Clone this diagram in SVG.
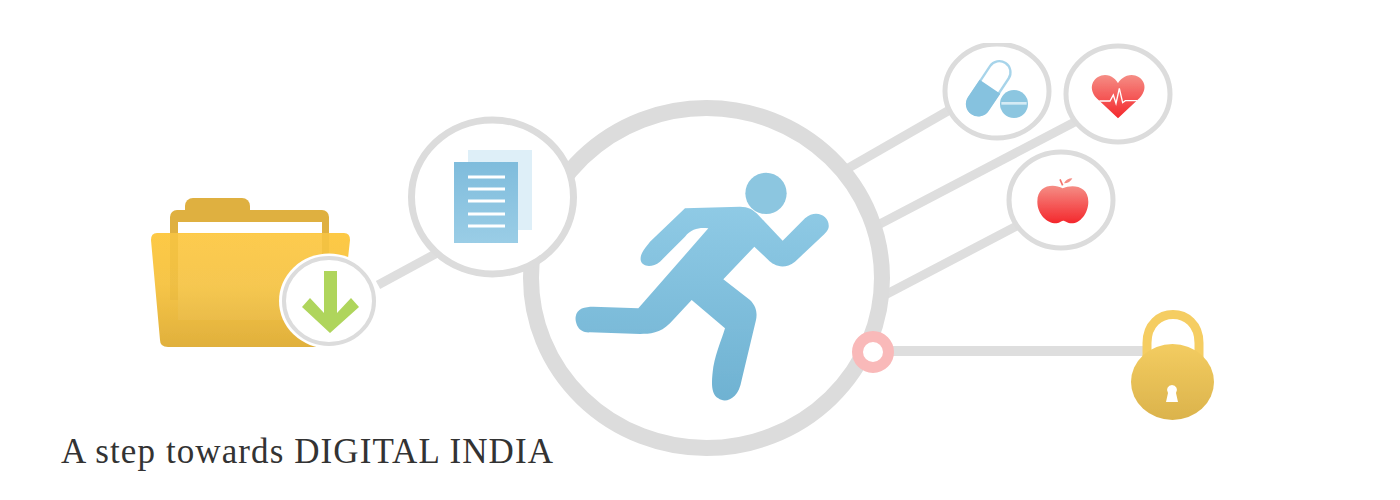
<svg xmlns="http://www.w3.org/2000/svg" width="1400" height="500" viewBox="0 0 1400 500">
<style>
.ring{fill:#fff;stroke:#dcdcdc}
.conn{stroke:#dedede;fill:none}
.label{font-family:"Liberation Serif","Times New Roman",serif;font-size:35px;fill:#333}
</style>
<defs>
<filter id="soft" x="-5%" y="-5%" width="110%" height="110%"><feGaussianBlur stdDeviation="0.6"/></filter>
<linearGradient id="blue" x1="0" y1="0" x2="0" y2="1"><stop offset="0" stop-color="#8fcae5"/><stop offset="1" stop-color="#6fb2d2"/></linearGradient>
<linearGradient id="docblue" x1="0" y1="0" x2="0" y2="1"><stop offset="0" stop-color="#7fbcdc"/><stop offset="1" stop-color="#9acde6"/></linearGradient>
<linearGradient id="red" x1="0" y1="0" x2="0" y2="1"><stop offset="0" stop-color="#f58d85"/><stop offset="1" stop-color="#f4272c"/></linearGradient>
<linearGradient id="gold" x1="0" y1="0" x2="0" y2="1"><stop offset="0" stop-color="#f3cc60"/><stop offset="1" stop-color="#dbb34c"/></linearGradient>
<linearGradient id="folder" x1="0" y1="0" x2="0" y2="1"><stop offset="0" stop-color="#fdc945"/><stop offset="0.45" stop-color="#f6c548"/><stop offset="1" stop-color="#e0b03c"/></linearGradient>
</defs>
<g filter="url(#soft)">
<g id="connectors">
<line class="conn" stroke-width="9" x1="378" y1="285" x2="450" y2="246"/>
<line class="conn" stroke-width="9" x1="845" y1="170" x2="960" y2="104"/>
<line class="conn" stroke-width="9" x1="878" y1="225" x2="1090" y2="114"/>
<line class="conn" stroke-width="9" x1="885" y1="295" x2="1030" y2="219"/>
<line class="conn" stroke-width="10" x1="880" y1="351" x2="1150" y2="351"/>
</g>
<g id="main-node">
<ellipse class="ring" cx="706.500" cy="278" rx="175.500" ry="170" stroke-width="16"/>
<g transform="translate(560 150) scale(0.33333)">
<circle cx="618" cy="130" r="62" fill="#8cc6e0"/>
<path fill="url(#blue)" d="M375,175 L540,170 C565,170 580,180 590,190 L668,272 L735,205 C770,175 810,200 806,232 C804,245 790,255 780,265 L705,335 C670,362 640,345 625,330 L583,290 L490,388 L570,450 C590,470 592,490 588,510 L545,690 C535,750 495,760 475,745 C450,730 455,690 460,650 C470,600 485,570 495,535 L395,450 L330,520 C300,550 270,552 240,552 L90,547 C50,550 45,510 47,500 C50,475 75,470 100,470 L235,475 L445,235 C420,232 395,235 375,260 L300,335 C275,355 245,350 242,330 C240,310 255,295 270,275 Z"/>
</g>
</g>
<g id="document-node">
<ellipse class="ring" cx="492.500" cy="197" rx="81" ry="77" stroke-width="7"/>
<rect x="468" y="150" width="64" height="80" fill="#deeff8"/>
<rect x="454" y="162" width="64" height="81" fill="url(#docblue)"/>
<g stroke="#fff" stroke-width="3">
<line x1="468" y1="177" x2="505" y2="177"/>
<line x1="468" y1="189" x2="505" y2="189"/>
<line x1="468" y1="201" x2="505" y2="201"/>
<line x1="468" y1="214" x2="505" y2="214"/>
<line x1="468" y1="226" x2="505" y2="226"/>
</g>
</g>
<g id="folder-node">
<rect x="185" y="198" width="65" height="24" rx="8" fill="#dfb040"/>
<rect x="170" y="210" width="159" height="60" rx="7" fill="#dfb040"/>
<rect x="178" y="222" width="144" height="14" fill="#fff"/>
<path d="M157,233 H344 Q350,233 350,240 L339,340 Q338,347 330,347 H168 Q160,347 160,340 L151,240 Q151,233 157,233 Z" fill="url(#folder)"/>
<path d="M170,233 H178 V300 H170 Z M322,233 H329 V270 H322 Z" fill="#d9a938" opacity="0.2"/>
<rect x="178" y="234" width="144" height="86" fill="#fff" opacity="0.05"/>
</g>
<g id="download-node">
<ellipse cx="329" cy="301" rx="50" ry="47.500" fill="#fff"/>
<ellipse class="ring" cx="329" cy="301" rx="45" ry="43" stroke-width="4"/>
<polygon points="324,271 337,271 337,313 351,298 359,307 330,333 302,307 310,298 324,313" fill="#afd55c"/>
</g>
<g id="pill-node">
<ellipse class="ring" cx="997" cy="91" rx="52" ry="47" stroke-width="5"/>
<g transform="translate(840 30) scale(0.33333)">
<line x1="478" y1="127" x2="415" y2="222" stroke="#a7d4ea" stroke-width="74" stroke-linecap="round"/>
<line x1="478" y1="127" x2="415" y2="222" stroke="#fff" stroke-width="60" stroke-linecap="round"/>
<path d="M419,149 L481,191 L446,243 A37,37 0 0 1 384,201 Z" fill="#86c2df"/>
<circle cx="522" cy="222" r="46" fill="#fff"/>
<circle cx="522" cy="222" r="42" fill="#8cc6e0"/>
<line x1="484" y1="220" x2="560" y2="220" stroke="#d5ebf5" stroke-width="8"/>
</g>
</g>
<g id="heart-node">
<ellipse class="ring" cx="1118" cy="94" rx="52" ry="48" stroke-width="5"/>
<g transform="translate(840 30) scale(0.33333)">
<path d="M834,265 L770,205 C738,170 765,135 795,135 C815,135 830,150 834,160 C838,150 855,135 875,135 C905,135 932,170 898,205 Z" fill="url(#red)"/>
<path d="M778,213 H810 L820,195 L828,220 L838,175 L848,218 L856,212 H892" fill="none" stroke="#fff" stroke-width="4"/>
</g>
</g>
<g id="apple-node">
<ellipse class="ring" cx="1061" cy="200" rx="52" ry="48" stroke-width="5"/>
<g transform="translate(840 30) scale(0.33333)">
<path d="M668,475 C640,460 592,465 592,515 C592,555 625,582 650,580 C660,578 665,572 670,572 C675,572 682,580 695,580 C720,580 745,550 745,515 C745,465 695,462 668,475 Z" fill="url(#red)"/>
<path d="M660,448 L668,466" stroke="#f4736c" stroke-width="5" fill="none"/>
<path d="M672,460 Q680,445 697,445 Q690,460 672,460 Z" fill="#f58d85"/>
</g>
</g>
<g id="pink-node">
<circle cx="873" cy="352" r="15.500" fill="#fff" stroke="#f9b9b9" stroke-width="11"/>
</g>
<g id="lock-node">
<path d="M1147,365 V343 C1147,305 1199,305 1199,343 V365" fill="none" stroke="#f5cd62" stroke-width="9"/>
<ellipse cx="1172.500" cy="382" rx="41.500" ry="38" fill="url(#gold)"/>
<path d="M1172,385 a5,5 0 0 1 4,8 l2,9 h-12 l2,-9 a5,5 0 0 1 4,-8 Z" fill="#fff"/>
</g>
</g>
<rect x="930" y="0" width="260" height="43" fill="#fff"/>
<text class="label" x="61" y="463" textLength="492" lengthAdjust="spacing">A step towards DIGITAL INDIA</text>
</svg>
